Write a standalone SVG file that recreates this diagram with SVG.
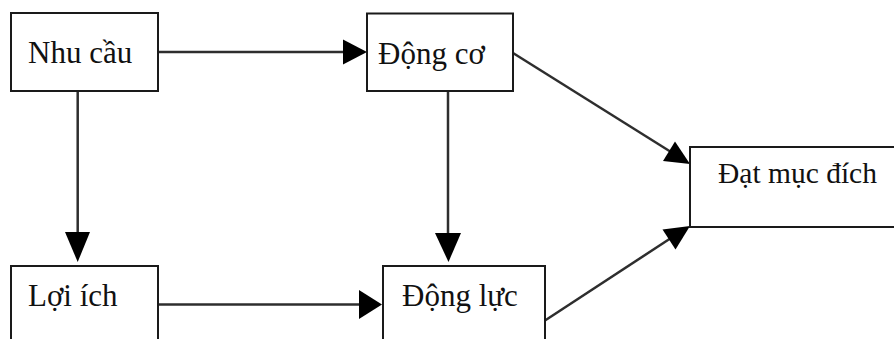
<svg xmlns="http://www.w3.org/2000/svg" width="894" height="339" viewBox="0 0 894 339">
  <style>
    .box { fill: #ffffff; stroke: #1a1a1a; stroke-width: 2; }
    .label { font-family: "Liberation Serif", "Times New Roman", serif; font-size: 31px; fill: #111111; }
    .wire { stroke: #2e2e2e; stroke-width: 2.5; fill: none; }
    .head { fill: #000000; stroke: none; }
  </style>
  <rect width="894" height="339" fill="#ffffff"/>

  <!-- connectors -->
  <g id="connectors">
    <!-- Nhu cau -> Dong co -->
    <line class="wire" x1="158" y1="52" x2="345" y2="52"/>
    <polygon class="head" points="343,39.5 367,52 343,64.5"/>
    <!-- Nhu cau -> Loi ich -->
    <line class="wire" x1="77.7" y1="91" x2="77.7" y2="234"/>
    <polygon class="head" points="65,232 90,232 77.7,262"/>
    <!-- Dong co -> Dong luc -->
    <line class="wire" x1="448" y1="91" x2="448" y2="235"/>
    <polygon class="head" points="435,233 461,233 448.5,262"/>
    <!-- Loi ich -> Dong luc -->
    <line class="wire" x1="158" y1="304.5" x2="361" y2="304.5"/>
    <polygon class="head" points="359,290 382,304.5 359,319"/>
    <!-- Dong co -> Dat muc dich -->
    <line class="wire" x1="513" y1="53" x2="671" y2="152"/>
    <polygon class="head" points="675,141.5 690,164 663,161"/>
    <!-- Dong luc -> Dat muc dich -->
    <line class="wire" x1="545" y1="320.5" x2="671" y2="238"/>
    <polygon class="head" points="662.5,229.5 690,226 675.5,249.5"/>
  </g>

  <g id="node-nhu-cau">
    <rect class="box" x="11" y="13" width="147" height="78"/>
    <text class="label" x="28" y="63">Nhu cầu</text>
  </g>

  <g id="node-dong-co">
    <rect class="box" x="367" y="13.5" width="146" height="77.5"/>
    <text class="label" x="378" y="64">Động cơ</text>
  </g>

  <g id="node-dat-muc-dich">
    <rect class="box" x="690" y="147" width="220" height="80"/>
    <text class="label" x="718" y="183" style="font-size:29.5px">Đạt mục đích</text>
  </g>

  <g id="node-loi-ich">
    <rect class="box" x="11" y="266" width="147" height="90"/>
    <text class="label" x="28" y="306">Lợi ích</text>
  </g>

  <g id="node-dong-luc">
    <rect class="box" x="383" y="266" width="162" height="90"/>
    <text class="label" x="402" y="306">Động lực</text>
  </g>
</svg>
